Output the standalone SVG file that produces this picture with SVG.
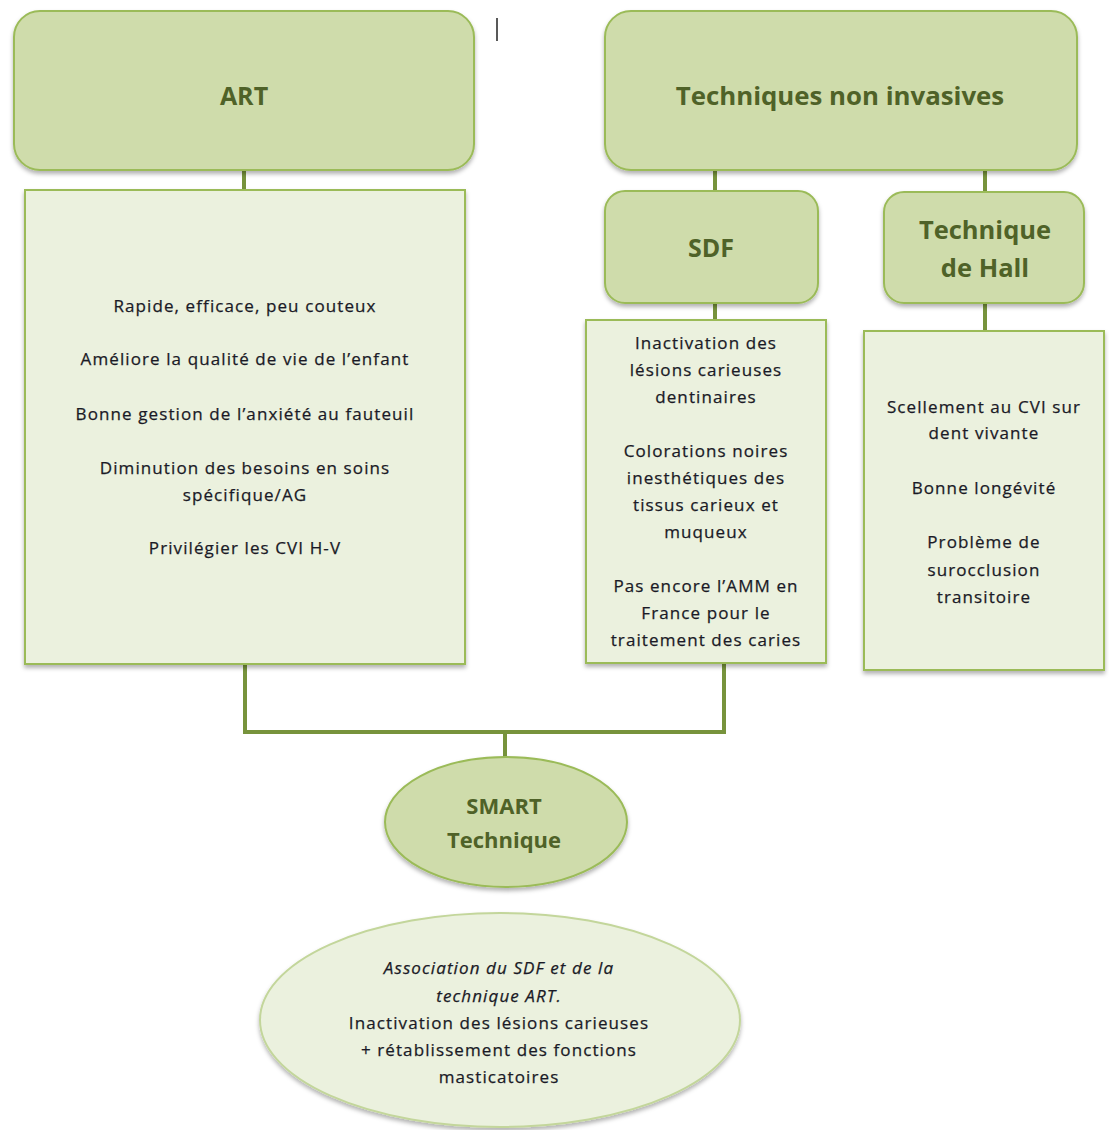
<svg xmlns="http://www.w3.org/2000/svg" width="1109" height="1130" viewBox="0 0 1109 1130">
<defs>
<filter id="sh" x="-10%" y="-10%" width="120%" height="130%">
<feDropShadow dx="0" dy="3" stdDeviation="2" flood-color="#000" flood-opacity="0.3"/>
</filter>
<style>
.hd{fill:#cfdcab;stroke:#9bbb59;stroke-width:2;filter:url(#sh)}
.ct{fill:#ebf1de;stroke:#9bbb59;stroke-width:2;filter:url(#sh)}
.ht{font-family:"Open Sans","Liberation Sans",sans-serif;font-weight:bold;fill:#4f6228;text-anchor:middle}
.bt{font-family:"Open Sans","Liberation Sans",sans-serif;font-size:17px;letter-spacing:1.1px;fill:#1a1a26;stroke:#1a1a26;stroke-width:0.25;text-anchor:middle}
.it{font-style:italic}
.cn{fill:none;stroke:#77933c;stroke-width:4}
</style>
</defs>
<rect width="1109" height="1130" fill="#fff"/>
<line x1="497" y1="18" x2="497" y2="41" stroke="#222" stroke-width="1.5"/>
<g id="connectors">
<line class="cn" x1="244" y1="171" x2="244" y2="190"/>
<line class="cn" x1="715" y1="171" x2="715" y2="191"/>
<line class="cn" x1="985" y1="171" x2="985" y2="192"/>
<line class="cn" x1="715" y1="303" x2="715" y2="320"/>
<line class="cn" x1="985" y1="303" x2="985" y2="331"/>
<polyline class="cn" points="245,664 245,732 724,732 724,663"/>
<line class="cn" x1="505" y1="732" x2="505" y2="759"/>
</g>
<g id="art">
<rect class="hd" x="14" y="11" width="460" height="159" rx="26"/>
<text class="ht" x="244" y="105" font-size="25">ART</text>
</g>
<g id="tni">
<rect class="hd" x="605" y="11" width="472" height="159" rx="26"/>
<text class="ht" x="840" y="105" font-size="25.8">Techniques non invasives</text>
</g>
<g id="art-details">
<rect class="ct" x="25" y="190" width="440" height="474"/>
<text class="bt" x="245" y="312">Rapide, efficace, peu couteux</text>
<text class="bt" x="245" y="365">Améliore la qualité de vie de l’enfant</text>
<text class="bt" x="245" y="420">Bonne gestion de l’anxiété au fauteuil</text>
<text class="bt" x="245" y="474">Diminution des besoins en soins</text>
<text class="bt" x="245" y="501">spécifique/AG</text>
<text class="bt" x="245" y="554">Privilégier les CVI H-V</text>
</g>
<g id="sdf">
<rect class="hd" x="605" y="191" width="213" height="112" rx="20"/>
<text class="ht" x="711" y="257" font-size="25">SDF</text>
</g>
<g id="hall">
<rect class="hd" x="884" y="192" width="200" height="111" rx="20"/>
<text class="ht" x="985" y="239" font-size="25.5">Technique</text>
<text class="ht" x="985" y="277" font-size="25.5">de Hall</text>
</g>
<g id="sdf-details">
<rect class="ct" x="586" y="320" width="240" height="343"/>
<text class="bt" x="706" y="349">Inactivation des</text>
<text class="bt" x="706" y="376">lésions carieuses</text>
<text class="bt" x="706" y="403">dentinaires</text>
<text class="bt" x="706" y="457">Colorations noires</text>
<text class="bt" x="706" y="484">inesthétiques des</text>
<text class="bt" x="706" y="511">tissus carieux et</text>
<text class="bt" x="706" y="538">muqueux</text>
<text class="bt" x="706" y="592">Pas encore l’AMM en</text>
<text class="bt" x="706" y="619">France pour le</text>
<text class="bt" x="706" y="646">traitement des caries</text>
</g>
<g id="hall-details">
<rect class="ct" x="864" y="331" width="240" height="339"/>
<text class="bt" x="984" y="413">Scellement au CVI sur</text>
<text class="bt" x="984" y="439">dent vivante</text>
<text class="bt" x="984" y="494">Bonne longévité</text>
<text class="bt" x="984" y="548">Problème de</text>
<text class="bt" x="984" y="576">surocclusion</text>
<text class="bt" x="984" y="603">transitoire</text>
</g>
<g id="smart">
<ellipse class="hd" cx="506" cy="822" rx="121" ry="65"/>
<text class="ht" x="504" y="814" font-size="22">SMART</text>
<text class="ht" x="504" y="848" font-size="22">Technique</text>
</g>
<g id="smart-details">
<ellipse class="ct" cx="500" cy="1020" rx="240" ry="107" style="stroke:#c3d69b"/>
<text class="bt it" x="499" y="974">Association du SDF et de la</text>
<text class="bt it" x="499" y="1002">technique ART.</text>
<text class="bt" x="499" y="1029">Inactivation des lésions carieuses</text>
<text class="bt" x="499" y="1056">+ rétablissement des fonctions</text>
<text class="bt" x="499" y="1083">masticatoires</text>
</g>
</svg>
